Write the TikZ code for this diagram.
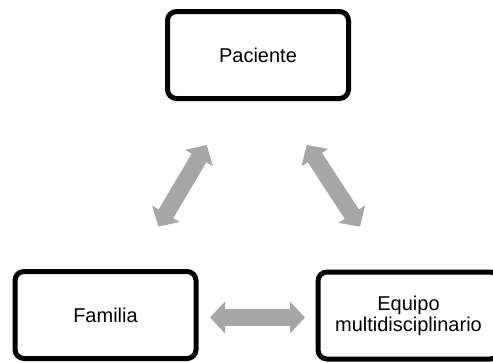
\documentclass[tikz,border=0pt]{standalone}
\usepackage{fontspec}
\setmainfont{Liberation Sans}
\usetikzlibrary{arrows.meta}
\definecolor{arrowgray}{HTML}{A6A6A6}
\tikzset{
  box/.style={draw=black, line width=5pt, rounded corners=9pt, fill=white,
    minimum width=181pt, minimum height=87pt, inner sep=0pt, align=center,
    font=\fontsize{20}{21}\selectfont},
  fatarrow/.style={draw=arrowgray, line width=17pt,
    {Triangle[length=15pt,width=31pt]}-{Triangle[length=15pt,width=31pt]}}
}
\begin{document}
\begin{tikzpicture}[x=1pt,y=-1pt]
\useasboundingbox (0,0) rectangle (493,362);
\node[box] (pac) at (258,55) {Paciente};
\node[box] (fam) at (105.5,315) {Familia};
\node[box] (equ) at (408.5,315.5) {Equipo\\multidisciplinario};
\coordinate (a1) at (158.3,226.7);
\coordinate (a2) at (206.7,145);
\coordinate (b1) at (306.7,145);
\coordinate (b2) at (360,226.7);
\coordinate (c1) at (210,317.5);
\coordinate (c2) at (305,317.5);
\draw[fatarrow] (a1) -- (a2);
\draw[fatarrow] (b1) -- (b2);
\draw[fatarrow] (c1) -- (c2);
\end{tikzpicture}
\end{document}
